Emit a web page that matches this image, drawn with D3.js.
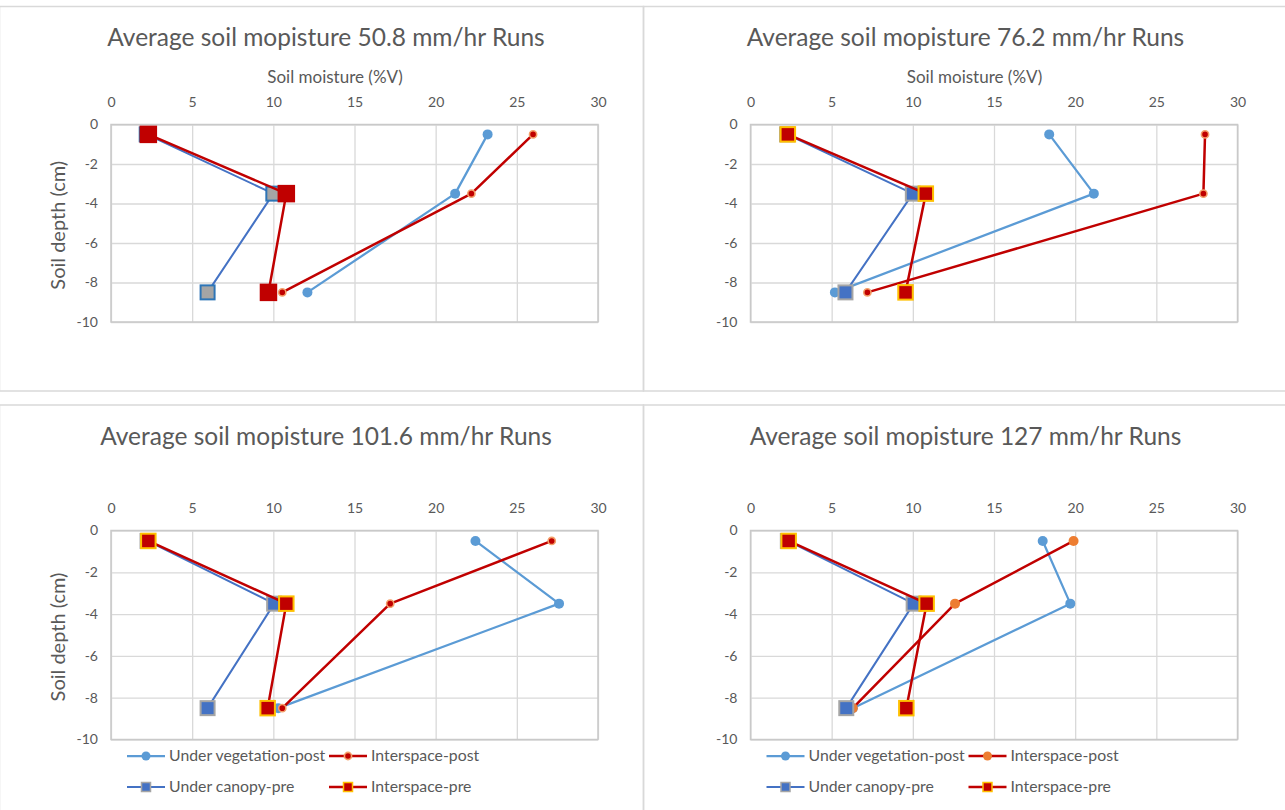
<!DOCTYPE html>
<html><head><meta charset="utf-8">
<script src="https://cdn.jsdelivr.net/npm/d3@7"></script>
<style>
html,body{margin:0;padding:0;background:#fff;}
svg{display:block;font-family:Lato,"Open Sans",sans-serif;}
</style></head>
<body>
<svg id="c" width="1285" height="810"></svg>
<script>
// ---------- data ----------
const depths = [-0.5, -3.5, -8.5];
const titles = [
  "Average soil mopisture 50.8 mm/hr Runs",
  "Average soil mopisture 76.2 mm/hr Runs",
  "Average soil mopisture 101.6 mm/hr Runs",
  "Average soil mopisture 127 mm/hr Runs"
];
const seriesNames = ["Under vegetation-post", "Interspace-post", "Under canopy-pre", "Interspace-pre"];
// per panel (50.8, 76.2, 101.6, 127 mm/hr), values at the three depths
const underVegPost   = [[23.2, 21.2, 12.1], [18.4, 21.15, 5.2], [22.45, 27.6, 10.3], [18.0, 19.7, 6.3]];
const interspacePost = [[26.0, 22.2, 10.55], [28.0, 27.9, 7.2], [27.15, 17.2, 10.55], [19.9, 12.6, 6.3]];
const underCanopyPre = [[2.2, 10.0, 5.95], [2.25, 10.0, 5.85], [2.25, 10.05, 5.95], [2.3, 10.05, 5.9]];
const interspacePre  = [[2.3, 10.8, 9.7], [2.3, 10.8, 9.55], [2.3, 10.8, 9.65], [2.35, 10.85, 9.6]];
const xTicks = [0, 5, 10, 15, 20, 25, 30];
const yTicks = [0, -2, -4, -6, -8, -10];
const xAxisTitle = "Soil moisture (%V)";
const yAxisTitle = "Soil depth (cm)";

// ---------- layout ----------
const svg = d3.select("#c");
const txt = "#595959";
const grid = "#D9D9D9";
const FONT = "Lato,'Open Sans',sans-serif";

const panels = [
  {ox: 0,     top: 124.5, bottom: 322,   titleY: 46,  xTitle: true,  yTitle: true,  legend: false, chart: [-1, 6.5, 643, 391]},
  {ox: 639.5, top: 124.5, bottom: 322,   titleY: 46,  xTitle: true,  yTitle: false, legend: false, chart: [643, 6.5, 1287, 391]},
  {ox: 0,     top: 530.5, bottom: 739.5, titleY: 445, xTitle: false, yTitle: true,  legend: true,  chart: [-1, 405, 643, 812]},
  {ox: 639.5, top: 530.5, bottom: 739.5, titleY: 445, xTitle: false, yTitle: false, legend: true,  chart: [643, 405, 1287, 812]}
];

// chart frames
panels.forEach(p => {
  const [x0, y0, x1, y1] = p.chart;
  svg.append("rect").attr("x", x0 + 0.5).attr("y", y0).attr("width", x1 - x0).attr("height", y1 - y0)
    .attr("fill", "none").attr("stroke", grid).attr("stroke-width", 1.5);
});

function styleFor(pi) {
  const first = pi === 0;
  return {
    uvp: {line: "#5B9BD5", lw: 2.25, shape: "circle", r: 5, fill: "#5B9BD5", stroke: "#5B9BD5", sw: 0},
    isp: pi === 3
      ? {line: "#C00000", lw: 2.5, shape: "circle", r: 5, fill: "#ED7D31", stroke: "#ED7D31", sw: 0}
      : {line: "#C00000", lw: 2.5, shape: "circle", r: 3.6, fill: "#C00000", stroke: "#F4A06A", sw: 1.6},
    ucp: first
      ? {line: "#4472C4", lw: 2, shape: "square", s: 14, fill: "#A5A5A5", stroke: "#2E75B6", sw: 2}
      : {line: "#4472C4", lw: 2, shape: "square", s: 14, fill: "#4472C4", stroke: "#A5A5A5", sw: 2},
    isq: first
      ? {line: "#C00000", lw: 2.5, shape: "square", s: 17.5, fill: "#C00000", stroke: "none", sw: 0}
      : {line: "#C00000", lw: 2.5, shape: "square", s: 14.5, fill: "#C00000", stroke: "#FFC000", sw: 2}
  };
}

function drawMarker(g, st, cx, cy) {
  if (st.shape === "circle") {
    g.append("circle").attr("cx", cx).attr("cy", cy).attr("r", st.r)
      .attr("fill", st.fill).attr("stroke", st.sw ? st.stroke : "none").attr("stroke-width", st.sw);
  } else {
    g.append("rect").attr("x", cx - st.s / 2).attr("y", cy - st.s / 2).attr("width", st.s).attr("height", st.s)
      .attr("fill", st.fill).attr("stroke", st.sw ? st.stroke : "none").attr("stroke-width", st.sw);
  }
}

panels.forEach((p, pi) => {
  const left = 111 + p.ox, right = 598 + p.ox;
  const x = d3.scaleLinear().domain([0, 30]).range([left, right]);
  const y = d3.scaleLinear().domain([0, -10]).range([p.top, p.bottom]);
  const g = svg.append("g");

  // title
  g.append("text").attr("x", 326 + p.ox).attr("y", p.titleY).attr("text-anchor", "middle")
    .attr("font-size", 24.5).attr("fill", txt).text(titles[pi]);

  // gridlines
  const gx = g.append("g").attr("transform", `translate(0,${p.top})`)
    .call(d3.axisTop(x).tickValues(xTicks).tickSize(-(p.bottom - p.top)).tickFormat(""));
  gx.select(".domain").remove();
  gx.selectAll("line").attr("stroke", grid).attr("stroke-width", 1.3);
  const gy = g.append("g").attr("transform", `translate(${left},0)`)
    .call(d3.axisLeft(y).tickValues(yTicks).tickSize(-(right - left)).tickFormat(""));
  gy.select(".domain").remove();
  gy.selectAll("line").attr("stroke", grid).attr("stroke-width", 1.3);
  // frame (axes lines)
  g.append("rect").attr("x", left).attr("y", p.top).attr("width", right - left).attr("height", p.bottom - p.top)
    .attr("fill", "none").attr("stroke", "#C9C9C9").attr("stroke-width", 1.5);

  // tick labels
  const ax = g.append("g").attr("transform", `translate(0,${p.top})`)
    .call(d3.axisTop(x).tickValues(xTicks).tickSize(0).tickPadding(17.5).tickFormat(d => String(d)));
  ax.select(".domain").remove();
  ax.selectAll("text").attr("fill", txt).attr("font-size", 14).attr("font-family", FONT);
  const ay = g.append("g").attr("transform", `translate(${left},0)`)
    .call(d3.axisLeft(y).tickValues(yTicks).tickSize(0).tickPadding(13).tickFormat(d => String(d)));
  ay.select(".domain").remove();
  ay.selectAll("text").attr("fill", txt).attr("font-size", 14).attr("font-family", FONT);

  if (p.xTitle) {
    g.append("text").attr("x", 335 + p.ox).attr("y", 83).attr("text-anchor", "middle")
      .attr("font-size", 17).attr("fill", txt).text(xAxisTitle);
  }
  if (p.yTitle) {
    const cy = (p.top + p.bottom) / 2 + 2;
    g.append("text").attr("transform", `translate(${p.ox + 65},${cy}) rotate(-90)`).attr("text-anchor", "middle")
      .attr("font-size", 20).attr("fill", txt).text(yAxisTitle);
  }

  // series
  const st = styleFor(pi);
  const seriesData = [
    [underVegPost[pi], st.uvp],
    [interspacePost[pi], st.isp],
    [underCanopyPre[pi], st.ucp],
    [interspacePre[pi], st.isq]
  ];
  const line = d3.line().x(d => x(d[0])).y(d => y(d[1]));
  seriesData.forEach(([vals, s]) => {
    const pts = vals.map((v, i) => [v, depths[i]]);
    g.append("path").attr("d", line(pts)).attr("fill", "none").attr("stroke", s.line)
      .attr("stroke-width", s.lw).attr("stroke-linejoin", "round");
    pts.forEach(pt => drawMarker(g, s, x(pt[0]), y(pt[1])));
  });

  // legend
  if (p.legend) {
    const items = [
      {name: seriesNames[0], s: st.uvp, lx: 127, ly: 756},
      {name: seriesNames[1], s: st.isp, lx: 329, ly: 756},
      {name: seriesNames[2], s: st.ucp, lx: 127, ly: 787},
      {name: seriesNames[3], s: st.isq, lx: 329, ly: 787}
    ];
    items.forEach(it => {
      const lx = it.lx + p.ox;
      g.append("line").attr("x1", lx).attr("x2", lx + 38).attr("y1", it.ly).attr("y2", it.ly)
        .attr("stroke", it.s.line).attr("stroke-width", it.s.lw);
      const ms = Object.assign({}, it.s);
      if (ms.shape === "square") { ms.s = 9; ms.sw = ms.sw ? 1.5 : 0; }
      if (ms.shape === "circle") { ms.r = Math.min(ms.r, 4.5); }
      drawMarker(g, ms, lx + 19, it.ly);
      g.append("text").attr("x", lx + 42).attr("y", it.ly + 5).attr("font-size", 15.8)
        .attr("fill", txt).text(it.name);
    });
  }
});
</script>
</body></html>
